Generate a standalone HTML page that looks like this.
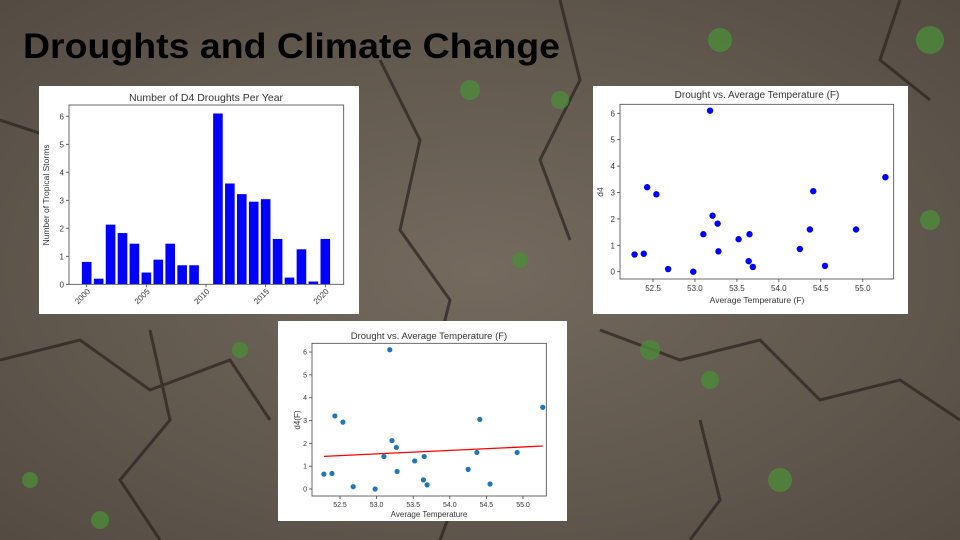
<!DOCTYPE html>
<html><head><meta charset="utf-8"><style>
html,body{margin:0;padding:0;width:960px;height:540px;overflow:hidden;background:#6a6157}
svg{display:block}
text{font-family:"Liberation Sans",sans-serif}
</style></head><body>
<svg id="s" width="960" height="540" viewBox="0 0 960 540">
<defs>
<radialGradient id="bg" cx="50%" cy="50%" r="70%"><stop offset="0" stop-color="#746a5e"/><stop offset="1" stop-color="#544c43"/></radialGradient>
</defs>
<rect width="960" height="540" fill="url(#bg)"/>
<g stroke="#2a241f" stroke-width="3" fill="none" opacity="0.7">
<path d="M0 120 L60 140 L120 110 L200 150 L260 130"/>
<path d="M380 60 L420 140 L400 230 L450 300 L430 380 L470 460 L440 540"/>
<path d="M560 0 L580 80 L540 160 L570 240"/>
<path d="M0 360 L80 340 L150 390 L230 360 L270 420"/>
<path d="M600 330 L680 360 L760 340 L820 400 L900 380 L960 420"/>
<path d="M900 0 L880 60 L930 100"/>
<path d="M150 330 L170 420 L120 480 L160 540"/>
<path d="M700 420 L720 500 L690 540"/>
</g>
<g fill="#4d8a3a" opacity="0.8">
<circle cx="720" cy="40" r="12"/><circle cx="930" cy="40" r="14"/><circle cx="470" cy="90" r="10"/><circle cx="560" cy="100" r="9"/><circle cx="240" cy="350" r="8"/><circle cx="650" cy="350" r="10"/><circle cx="710" cy="380" r="9"/><circle cx="930" cy="220" r="10"/><circle cx="780" cy="480" r="12"/><circle cx="100" cy="520" r="9"/><circle cx="30" cy="480" r="8"/><circle cx="520" cy="260" r="8"/>
</g>
<text x="23" y="58" font-size="35" font-weight="bold" fill="#000" textLength="537" lengthAdjust="spacingAndGlyphs">Droughts and Climate Change</text>

<g id="c1">
<rect x="39" y="86" width="320" height="228" fill="#fff"/>
<text x="206" y="101" font-size="10.5" fill="#333" text-anchor="middle">Number of D4 Droughts Per Year</text>
<text transform="translate(49,195) rotate(-90)" font-size="8.5" fill="#333" text-anchor="middle">Number of Tropical Storms</text>
</g>
<g id="c2">
<rect x="593" y="86" width="315" height="228" fill="#fff"/>
<text x="757" y="98" font-size="10" fill="#333" text-anchor="middle">Drought vs. Average Temperature (F)</text>
<text x="757" y="303" font-size="8.5" fill="#333" text-anchor="middle">Average Temperature (F)</text>
<text transform="translate(603,192) rotate(-90)" font-size="8.5" fill="#333" text-anchor="middle">d4</text>
</g>
<g id="c3">
<rect x="278" y="321" width="289" height="200" fill="#fff"/>
<text x="429" y="339" font-size="9.5" fill="#333" text-anchor="middle">Drought vs. Average Temperature (F)</text>
<text x="429" y="517" font-size="8" fill="#333" text-anchor="middle">Average Temperature</text>
<text transform="translate(300,420) rotate(-90)" font-size="8" fill="#333" text-anchor="middle">d4(F)</text>
</g>
</svg>
<script>
const years=[2000,2001,2002,2003,2004,2005,2006,2007,2008,2009,2010,2011,2012,2013,2014,2015,2016,2017,2018,2019,2020];
const droughts=[0.8,0.2,2.13,1.83,1.45,0.42,0.88,1.45,0.68,0.68,0,6.1,3.6,3.22,2.95,3.04,1.62,0.24,1.25,0.1,1.62];
const yearTicks=[2000,2005,2010,2015,2020];
const countTicks=[0,1,2,3,4,5,6];
const temps=[52.28,52.39,52.43,52.54,52.68,52.98,53.1,53.18,53.21,53.27,53.28,53.52,53.64,53.65,53.69,54.25,54.37,54.41,54.55,54.92,55.27];
const d4=[0.65,0.68,3.2,2.93,0.1,0,1.42,6.1,2.12,1.82,0.77,1.23,0.4,1.42,0.18,0.86,1.6,3.05,0.22,1.6,3.58];
const tempTicks=[52.5,53.0,53.5,54.0,54.5,55.0];
const NS='http://www.w3.org/2000/svg';
function mk(parent,tag,attrs){const e=document.createElementNS(NS,tag);for(const k in attrs)e.setAttribute(k,attrs[k]);parent.appendChild(e);return e;}
const g1=document.getElementById('c1'),g2=document.getElementById('c2'),g3=document.getElementById('c3');

// bar chart
const bx=v=>86.7+(v-2000)*11.93, by=v=>284.3-v*28;
droughts.forEach((v,i)=>{const r=mk(g1,'rect',{x:bx(years[i])-4.8,y:by(v),width:9.6,height:by(0)-by(v),fill:'#0000ff'});

});
mk(g1,'rect',{x:69,y:105,width:274.7,height:179.3,fill:'none',stroke:'#444','stroke-width':0.8});
countTicks.forEach(t=>{mk(g1,'line',{x1:66,x2:69,y1:by(t),y2:by(t),stroke:'#444','stroke-width':0.8});
const tx=mk(g1,'text',{x:64,y:by(t)+3,'font-size':8,fill:'#333','text-anchor':'end'});tx.textContent=t;

});
yearTicks.forEach(t=>{mk(g1,'line',{x1:bx(t),x2:bx(t),y1:284.3,y2:287.3,stroke:'#444','stroke-width':0.8});
const tx=mk(g1,'text',{transform:`translate(${bx(t)+4},${292}) rotate(-45)`,'font-size':8,fill:'#333','text-anchor':'end'});tx.textContent=t;

});

// scatter
const sx=v=>653+(v-52.5)*83.9, sy=v=>271.7-v*26.4;
temps.forEach((t,i)=>{const c=mk(g2,'circle',{cx:sx(t),cy:sy(d4[i]),r:3.2,fill:'#0000ff'});

});
mk(g2,'rect',{x:620,y:104.3,width:273.7,height:174.7,fill:'none',stroke:'#444','stroke-width':0.8});
countTicks.forEach(t=>{mk(g2,'line',{x1:617,x2:620,y1:sy(t),y2:sy(t),stroke:'#444','stroke-width':0.8});
const tx=mk(g2,'text',{x:615,y:sy(t)+3,'font-size':8,fill:'#333','text-anchor':'end'});tx.textContent=t;

});
tempTicks.forEach(t=>{mk(g2,'line',{x1:sx(t),x2:sx(t),y1:279,y2:282,stroke:'#444','stroke-width':0.8});
const tx=mk(g2,'text',{x:sx(t),y:291,'font-size':8,fill:'#333','text-anchor':'middle'});tx.textContent=t.toFixed(1);

});

// regression
const rx=v=>340+(v-52.5)*73.2, ry=v=>489-v*22.83;
temps.forEach((t,i)=>{const c=mk(g3,'circle',{cx:rx(t),cy:ry(d4[i]),r:2.6,fill:'#1f77b4'});

});
// least squares fit
const n=temps.length,mx=temps.reduce((a,b)=>a+b)/n,my=d4.reduce((a,b)=>a+b)/n;
let num=0,den=0;temps.forEach((t,i)=>{num+=(t-mx)*(d4[i]-my);den+=(t-mx)*(t-mx);});
const slope=num/den,icpt=my-slope*mx;
const tmin=Math.min(...temps),tmax=Math.max(...temps);
const ln=mk(g3,'line',{x1:rx(tmin),y1:ry(icpt+slope*tmin),x2:rx(tmax),y2:ry(icpt+slope*tmax),stroke:'#ff0000','stroke-width':1.3});


mk(g3,'rect',{x:312,y:343.3,width:234.3,height:152.7,fill:'none',stroke:'#444','stroke-width':0.8});
countTicks.forEach(t=>{mk(g3,'line',{x1:309,x2:312,y1:ry(t),y2:ry(t),stroke:'#444','stroke-width':0.8});
const tx=mk(g3,'text',{x:307,y:ry(t)+2.5,'font-size':7,fill:'#333','text-anchor':'end'});tx.textContent=t;

});
tempTicks.forEach(t=>{mk(g3,'line',{x1:rx(t),x2:rx(t),y1:496,y2:499,stroke:'#444','stroke-width':0.8});
const tx=mk(g3,'text',{x:rx(t),y:507,'font-size':7,fill:'#333','text-anchor':'middle'});tx.textContent=t.toFixed(1);

});
</script>
</body></html>
